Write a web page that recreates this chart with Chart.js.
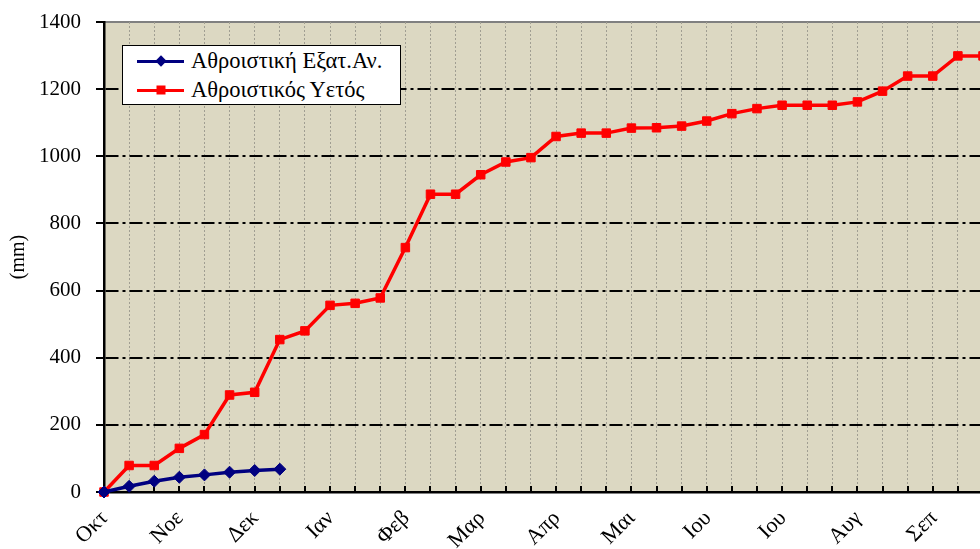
<!DOCTYPE html>
<html>
<head>
<meta charset="utf-8">
<script src="https://cdn.jsdelivr.net/npm/chart.js@4.4.0/dist/chart.umd.min.js"></script>
<style>
  html, body { margin: 0; padding: 0; background: #fff; overflow: hidden; }
  #wrap { position: relative; width: 990px; height: 549px; }
  #legend {
    position: absolute; left: 122px; top: 45px; width: 277px; height: 58px;
    background: #fff; border: 1.5px solid #000;
    font-family: 'Liberation Serif', serif; font-size: 22.5px; color: #000;
  }
  .item { position: absolute; left: 14px; height: 26px; display: flex; align-items: center; white-space: nowrap; }
  .swatch { position: relative; width: 47px; height: 3px; margin-right: 7px; }
  .swatch::after { content: ''; position: absolute; left: 50%; top: 50%; }
  .evap .swatch { background: #000080; }
  .evap .swatch::after { width: 8px; height: 8px; background: #000080; transform: translate(-50%, -50%) rotate(45deg); }
  .rain .swatch { background: #ff0000; }
  .rain .swatch::after { width: 9px; height: 9px; background: #ff0000; transform: translate(-50%, -50%); }
  .xl {
    position: absolute; white-space: nowrap; color: #000;
    font-family: 'Liberation Serif', serif; font-size: 22px; line-height: 22px; height: 22px;
    transform-origin: 100% 50%; transform: rotate(-45deg);
  }
</style>
</head>
<body>
<div id="wrap">
  <canvas id="chart" width="990" height="549"></canvas>
  <div id="legend">
    <div class="item evap" style="top:2px"><span class="swatch"></span><span id="lg0"></span></div>
    <div class="item rain" style="top:31px"><span class="swatch"></span><span id="lg1"></span></div>
  </div>
</div>
<script>
// months, one label every third ten-day period
const months = ['Οκτ', 'Νοε', 'Δεκ', 'Ιαν', 'Φεβ', 'Μαρ', 'Απρ', 'Μαι', 'Ιου', 'Ιου', 'Αυγ', 'Σεπ']
const labels = months.flatMap(m => [m, '', ''])

const seriesNames = ['Αθροιστική Εξατ.Αν.', 'Αθροιστικός Υετός']

// cumulative evaporation (mm)
const evapValues = [0, 17, 32, 44, 51, 59, 64, 68]

// cumulative rainfall (mm)
const rainValues = [0, 79, 79, 130, 171, 289, 297, 454, 480, 556, 562, 578,
  728, 887, 887, 945, 983, 996, 1059, 1069, 1069, 1084, 1085, 1090,
  1105, 1127, 1142, 1152, 1152, 1152, 1162, 1194, 1239, 1239, 1299, 1299]

const yTicks = [0, 200, 400, 600, 800, 1000, 1200, 1400]
const yTitle = '(mm)'

document.getElementById('lg0').textContent = seriesNames[0]
document.getElementById('lg1').textContent = seriesNames[1]

const FONT = 'Liberation Serif'
const wrap = document.getElementById('wrap')

// tan plot background and grey top frame
const plotBackground = {
  id: 'plotBackground',
  beforeDraw(chart) {
    const { ctx, chartArea: a } = chart
    ctx.save()
    ctx.fillStyle = '#DCD8C2'
    ctx.fillRect(a.left, a.top, a.right - a.left, a.bottom - a.top)
    ctx.strokeStyle = '#808080'
    ctx.lineWidth = 2
    ctx.beginPath()
    ctx.moveTo(a.left, a.top)
    ctx.lineTo(a.right, a.top)
    ctx.stroke()
    ctx.restore()
  }
}

// short tick marks pointing up from the x axis
const innerTicks = {
  id: 'innerTicks',
  beforeDatasetsDraw(chart) {
    const { ctx, chartArea: a, scales } = chart
    const xs = scales.x
    ctx.save()
    ctx.strokeStyle = '#000'
    ctx.lineWidth = 2
    xs.ticks.forEach((t, i) => {
      const x = Math.round(xs.getPixelForTick(i))
      ctx.beginPath()
      ctx.moveTo(x, a.bottom)
      ctx.lineTo(x, a.bottom - 6)
      ctx.stroke()
    })
    ctx.restore()
  }
}

const chart = new Chart(document.getElementById('chart'), {
  type: 'line',
  data: {
    labels,
    datasets: [
      {
        label: seriesNames[0],
        data: evapValues,
        borderColor: '#000080',
        backgroundColor: '#000080',
        borderWidth: 3.5,
        pointStyle: 'rectRot',
        pointRadius: 6,
        pointBorderWidth: 1,
        tension: 0,
        clip: false
      },
      {
        label: seriesNames[1],
        data: rainValues,
        borderColor: '#ff0000',
        backgroundColor: '#ff0000',
        borderWidth: 3.5,
        pointStyle: 'rect',
        pointRadius: 6,
        pointBorderWidth: 1,
        tension: 0,
        clip: false
      }
    ]
  },
  options: {
    responsive: false,
    animation: false,
    layout: { padding: { top: 22, right: 4, left: 0, bottom: 0 } },
    plugins: {
      legend: { display: false },
      tooltip: { enabled: false }
    },
    scales: {
      x: {
        afterFit: s => {
          s.height = 57
          s.paddingLeft = 0
          s.paddingRight = 0
        },
        grid: { color: '#a09e92', lineWidth: 1, drawTicks: false },
        border: { color: '#000', width: 2.5, dash: [2, 2] },
        ticks: { display: false, autoSkip: false }
      },
      y: {
        min: 0,
        max: 1400,
        afterFit: s => {
          s.width = 104
          s.paddingTop = 0
          s.paddingBottom = 0
        },
        afterBuildTicks: s => { s.ticks = yTicks.map(v => ({ value: v })) },
        grid: {
          color: c => (c.tick && c.tick.value === 1400 ? 'rgba(0,0,0,0)' : '#000'),
          lineWidth: 2,
          tickLength: 8,
          tickColor: '#000',
          tickWidth: 2
        },
        border: { color: '#000', width: 2.5, dash: [13, 4, 3, 4] },
        ticks: {
          padding: 15,
          color: '#000',
          font: { family: FONT, size: 21 },
          callback: v => String(v)
        },
        title: {
          display: true,
          text: yTitle,
          color: '#000',
          padding: { top: 7, bottom: 0 },
          font: { family: FONT, size: 20 }
        }
      }
    }
  },
  plugins: [plotBackground, innerTicks]
})

// month names as rotated text, right end placed at each labelled tick
const xs = chart.scales.x
const bottom = chart.chartArea.bottom
labels.forEach((lab, i) => {
  if (!lab) return
  const el = document.createElement('div')
  el.className = 'xl'
  el.textContent = lab
  el.style.right = (wrap.clientWidth - xs.getPixelForTick(i)) + 'px'
  el.style.top = (bottom + 22 - 11) + 'px'
  wrap.appendChild(el)
})
</script>
</body>
</html>
